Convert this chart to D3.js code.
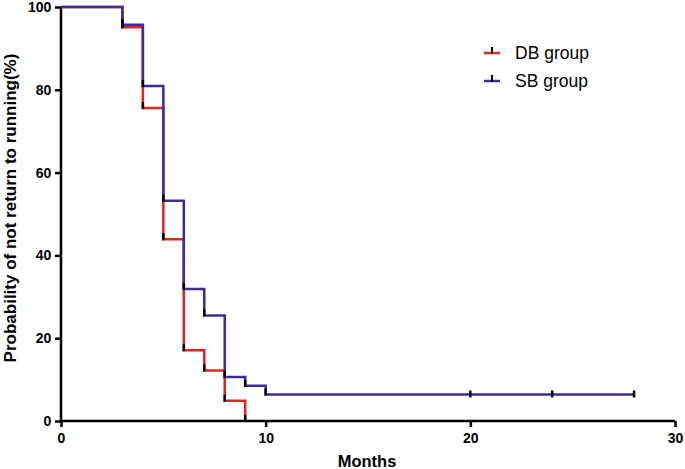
<!DOCTYPE html>
<html><head><meta charset="utf-8">
<script src="https://cdn.jsdelivr.net/npm/d3@7"></script>
<style>body{margin:0;background:#fff}svg{display:block}text{font-family:"Liberation Sans",Arial,sans-serif}</style>
</head><body>
<svg id="c" width="685" height="469"></svg>
<script>
// Step times and survival values (%)
const dbTimes = [0, 3, 4, 5, 6, 7, 8, 9];
const dbValues = [100, 95.1, 75.6, 43.9, 17.1, 12.2, 4.9, 0];
const dbEnd = 9;
const sbTimes = [0, 3, 4, 5, 6, 7, 8, 9, 10];
const sbValues = [100, 95.7, 80.9, 53.2, 31.9, 25.5, 10.6, 8.5, 6.4];
const sbEnd = 28;
const sbCensored = [20, 24, 28];
const xTicks = [0, 10, 20, 30];
const yTicks = [0, 20, 40, 60, 80, 100];
const seriesNames = ["DB group", "SB group"];
const colors = ["#e5231d", "#3a2c9c"];

const svg = d3.select("#c");
const x = d3.scaleLinear().domain([0, 30]).range([61, 675]);
const y = d3.scaleLinear().domain([0, 100]).range([421, 7]);

function stepPath(times, vals, end) {
  const pts = [];
  for (let i = 0; i < times.length; i++) {
    if (i > 0) pts.push([x(times[i]), y(vals[i - 1])]);
    pts.push([x(times[i]), y(vals[i])]);
  }
  pts.push([x(end), y(vals[vals.length - 1])]);
  return d3.line()(pts);
}

const series = [
  {t: dbTimes, v: dbValues, end: dbEnd, cens: [], color: colors[0]},
  {t: sbTimes, v: sbValues, end: sbEnd, cens: sbCensored, color: colors[1]}
];

// axes
const xAxis = svg.append("g").attr("transform", "translate(0,421)")
  .call(d3.axisBottom(x).tickValues(xTicks).tickSize(6).tickFormat(d3.format("d")));
const yAxis = svg.append("g").attr("transform", "translate(61,0)")
  .call(d3.axisLeft(y).tickValues(yTicks).tickSize(6).tickFormat(d3.format("d")));
[xAxis, yAxis].forEach(g => {
  g.select(".domain").attr("stroke", "#000").attr("stroke-width", 2.5);
  g.selectAll(".tick line").attr("stroke", "#000").attr("stroke-width", 2.5);
  g.selectAll("text").attr("fill", "#000").attr("font-size", 14).attr("font-weight", "bold");
});
xAxis.select(".domain").attr("d", `M${x(0)},0H${x(30)}`);
yAxis.select(".domain").attr("d", `M0,${y(0)}V${y(100)}`);
xAxis.selectAll("text").attr("dy", "0.95em");
yAxis.selectAll("text").attr("dx", "-0.05em");

// curves
series.forEach(s => {
  svg.append("path").attr("d", stepPath(s.t, s.v, s.end))
    .attr("fill", "none").attr("stroke", s.color).attr("stroke-width", 2.5)
    .attr("stroke-linejoin", "miter");
});
// corner marks (black ticks at lower step corners)
series.forEach(s => {
  for (let i = 1; i < s.t.length; i++) {
    svg.append("line").attr("x1", x(s.t[i])).attr("x2", x(s.t[i]))
      .attr("y1", y(s.v[i]) - 6).attr("y2", y(s.v[i]) + 1)
      .attr("stroke", "#000").attr("stroke-width", 2.5);
  }
  s.cens.forEach(c => {
    const lv = s.v[s.v.length - 1];
    svg.append("line").attr("x1", x(c)).attr("x2", x(c))
      .attr("y1", y(lv) - 4).attr("y2", y(lv) + 3)
      .attr("stroke", "#000").attr("stroke-width", 2.5);
  });
});

// legend
seriesNames.forEach((n, i) => {
  const ly = 53 + i * 28;
  svg.append("line").attr("x1", 484).attr("x2", 500).attr("y1", ly).attr("y2", ly)
    .attr("stroke", colors[i]).attr("stroke-width", 2.5);
  svg.append("line").attr("x1", 492).attr("x2", 492).attr("y1", ly - 6).attr("y2", ly + 1)
    .attr("stroke", "#000").attr("stroke-width", 2);
  svg.append("text").attr("x", 515).attr("y", ly + 6).attr("font-size", 17.5)
    .attr("fill", "#000").text(n);
});

// axis titles
svg.append("text").attr("x", 367).attr("y", 467).attr("text-anchor", "middle")
  .attr("font-size", 16.5).attr("font-weight", "bold").text("Months");
svg.append("text").attr("transform", "translate(16,208) rotate(-90)")
  .attr("text-anchor", "middle").attr("font-size", 17).attr("font-weight", "bold")
  .text("Probability of not return to running(%)");
</script>
</body></html>
